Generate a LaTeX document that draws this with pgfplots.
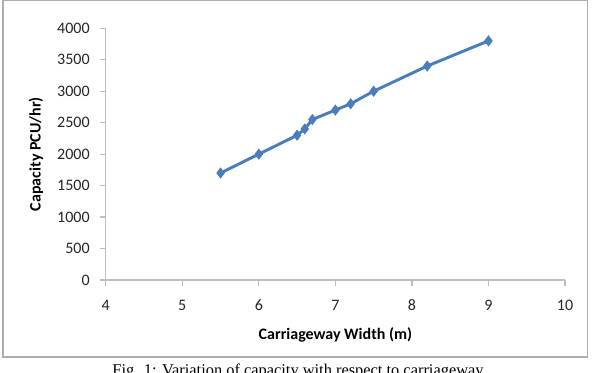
\documentclass[border=0pt]{standalone}
\usepackage{pgfplots}
\pgfplotsset{compat=1.18}
\usepackage{fontspec}
\setmainfont{Carlito}
\newfontfamily\capfont{Liberation Serif}
\definecolor{excelblue}{HTML}{4A7EBB}
\definecolor{axisgray}{HTML}{BEBEBE}
\definecolor{framegray}{HTML}{8C8C8C}

\pgfplotstableread{
w     cap
5.5   1700
6.0   2000
6.5   2300
6.6   2400
6.7   2550
7.0   2700
7.2   2800
7.5   3000
8.2   3400
9.0   3800
}\capacitydata

\begin{document}
\begin{tikzpicture}[x=0.75pt,y=0.75pt]
\useasboundingbox (0,0) rectangle (598,372);
\clip (0,0) rectangle (598,372);
% chart frame
\draw[framegray!70, line width=0.9pt] (3,15) rectangle (587.5,372);
\begin{axis}[
  at={(105.7*0.75pt,92*0.75pt)}, anchor=origin,
  scale only axis,
  width=344.5pt, height=188.8pt,
  xmin=4, xmax=10, ymin=0, ymax=4000,
  xtick={4,5,...,10}, ytick={0,500,...,4000},
  axis x line*=bottom, axis y line*=left,
  axis line style={axisgray, line width=0.9pt},
  tick style={axisgray, line width=0.9pt},
  tick align=outside, major tick length=4.5pt,
  /pgf/number format/assume math mode=true,
  /pgf/number format/1000 sep={},
  tick label style={font=\fontsize{12}{14}\selectfont, text=black!85},
  xticklabel style={yshift=-7pt},
  yticklabel style={xshift=-4pt},
  xlabel={\textbf{Carriageway Width (m)}},
  ylabel={\textbf{Capacity PCU/hr)}},
  label style={font=\fontsize{12}{14}\selectfont, text=black},
  xlabel style={at={(axis description cs:0.5,-0.2185)}, anchor=center},
  ylabel style={at={(axis description cs:-0.152,0.5)}, anchor=center},
  clip=false,
]
\addplot[excelblue, line width=2.2pt, mark=diamond*, mark size=3.6pt,
  mark options={solid, fill=excelblue, line width=0.8pt}]
  table[x=w, y=cap] {\capacitydata};
\end{axis}
\node[font=\capfont\fontsize{12.3}{14}\selectfont, anchor=base] at (298,-3)
  {Fig. 1: Variation of capacity with respect to carriageway};
\end{tikzpicture}
\end{document}
